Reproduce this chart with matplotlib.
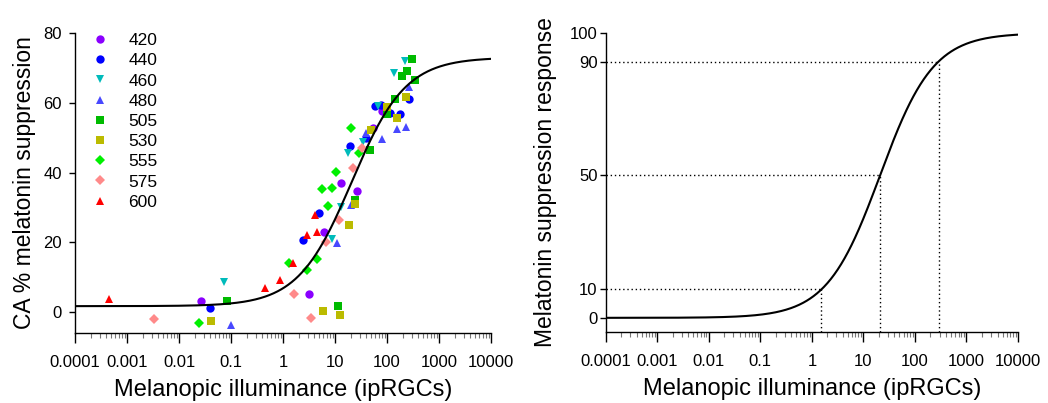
import matplotlib
matplotlib.use("Agg")
import matplotlib.pyplot as plt
import numpy as np
from matplotlib.ticker import LogLocator, NullFormatter

plt.rcParams['font.family'] = ['Liberation Sans', 'DejaVu Sans']

# melanopic illuminance (x) and CA % melatonin suppression (y), by wavelength
x420 = [0.0265, 3.2, 6.2, 13.0, 26.5, 53, 79]
y420 = [3.2, 5.3, 23.0, 37.0, 34.8, 52.9, 57.7]
x440 = [0.0394, 2.39, 4.85, 19.1, 38.9, 58, 76.7, 114, 178, 265]
y440 = [1.15, 20.8, 28.5, 47.6, 50.0, 59.1, 59.3, 57.0, 56.8, 61.0]
x460 = [0.0723, 8.63, 13.0, 17.8, 34, 67, 134, 225]
y460 = [8.6, 20.9, 30.2, 45.7, 48.9, 59.1, 68.5, 72.1]
x480 = [0.0986, 11.1, 20, 39.5, 81, 156, 232, 269, 345]
y480 = [-3.8, 19.9, 30.8, 51.2, 49.5, 52.4, 53.0, 64.5, 66.4]
x505 = [0.0837, 11.2, 24.3, 46.4, 100, 145, 197, 243, 298, 345]
y505 = [3.1, 1.6, 32.1, 46.6, 56.8, 61.0, 67.7, 69.1, 72.5, 66.6]
x530 = [0.0419, 5.97, 12.5, 18.6, 24.6, 49.2, 101, 153, 232]
y530 = [-2.6, 0.4, -0.7, 24.9, 31.1, 52.2, 58.9, 55.6, 61.8]
x555 = [0.0239, 1.32, 2.9, 4.44, 5.7, 7.45, 8.75, 10.3, 20, 28.5]
y555 = [-3.2, 14.1, 12.2, 15.2, 35.4, 30.4, 35.6, 40.1, 52.9, 45.5]
x575 = [0.00326, 1.65, 3.4, 6.7, 11.9, 22.5, 32.6]
y575 = [-1.9, 5.3, -1.7, 20.1, 26.5, 41.2, 47.1]
x600 = [0.000443, 0.451, 0.875, 1.53, 2.9, 4.5, 4.19]
y600 = [3.8, 7.0, 9.3, 14.1, 22.2, 23.0, 27.8]

# fitted four-parameter logistic (Hill) curve
fit_bottom = 1.7
fit_top = 73.0
ec50 = 21.0
hill = 0.84
levels = [10, 50, 90]


def hill_curve(x, bottom, top):
    return bottom + (top - bottom) / (1 + (ec50 / x) ** hill)


series = [
    ("420", x420, y420, "o", "#8a00ff", 6.0),
    ("440", x440, y440, "o", "#0000ff", 6.0),
    ("460", x460, y460, "v", "#00bbbb", 6.2),
    ("480", x480, y480, "^", "#4848ff", 6.2),
    ("505", x505, y505, "s", "#00bb00", 5.3),
    ("530", x530, y530, "s", "#bbbb00", 5.3),
    ("555", x555, y555, "D", "#00f000", 4.7),
    ("575", x575, y575, "D", "#ff8a8a", 4.7),
    ("600", x600, y600, "^", "#ff0000", 6.2),
]


def style_axes(ax, ypad):
    ax.set_xscale("log")
    ax.set_xlim(1e-4, 1e4)
    ax.spines["top"].set_visible(False)
    ax.spines["right"].set_visible(False)
    ax.spines["left"].set_linewidth(1.0)
    ax.spines["bottom"].set_linewidth(1.0)
    ax.xaxis.set_minor_locator(LogLocator(base=10, subs=np.arange(2, 10), numticks=20))
    ax.xaxis.set_minor_formatter(NullFormatter())
    ax.set_xticks([1e-4, 1e-3, 1e-2, 1e-1, 1, 10, 100, 1000, 10000])
    ax.set_xticklabels(["0.0001", "0.001", "0.01", "0.1", "1", "10", "100", "1000", "10000"])
    ax.tick_params(axis="x", which="major", direction="out", length=7, width=1.0,
                   labelsize=12, pad=9)
    ax.tick_params(axis="x", which="minor", direction="out", length=3.5, width=0.8,
                   color="#777777")
    ax.tick_params(axis="y", which="major", direction="out", length=4.5, width=1.0,
                   labelsize=12, pad=ypad)
    ax.set_xlabel("Melanopic illuminance (ipRGCs)", fontsize=17, labelpad=6.5)


fig = plt.figure(figsize=(10.48, 4.03), dpi=100)
ax1 = fig.add_axes([0.0716, 0.1737, 0.3969, 0.7443])
ax2 = fig.add_axes([0.578, 0.176, 0.3934, 0.742])

# left panel: data and fit
for lab, xs, ys, mk, col, ms in series:
    ax1.plot(xs, ys, linestyle="none", marker=mk, color=col, markersize=ms,
             markeredgewidth=0, label=lab, zorder=3)
xx = np.logspace(-4, 4, 600)
ax1.plot(xx, hill_curve(xx, fit_bottom, fit_top), color="black", lw=1.5, zorder=4)
style_axes(ax1, 5)
ax1.set_ylim(-6, 80)
ax1.set_yticks([0, 20, 40, 60, 80])
ax1.set_ylabel("CA % melatonin suppression", fontsize=16.5, labelpad=5)
ax1.legend(loc="upper left", bbox_to_anchor=(0.04, 1.0), frameon=False,
           fontsize=12.5, handlelength=1.0, handletextpad=1.1, labelspacing=0.29,
           borderpad=0, borderaxespad=0, markerscale=1.0)

# right panel: normalised response with 10/50/90 % guides
ax2.plot(xx, hill_curve(xx, 0, 100), color="black", lw=1.5, zorder=4)
for p in levels:
    xp = ec50 * (p / (100 - p)) ** (1 / hill)
    ax2.plot([1e-4, xp], [p, p], color="black", lw=1.0, linestyle=(0, (1, 2)))
    ax2.plot([xp, xp], [-5, p], color="black", lw=1.0, linestyle=(0, (1, 2)))
style_axes(ax2, 1.5)
ax2.set_ylim(-5, 100)
ax2.set_yticks([0, 10, 50, 90, 100])
ax2.set_ylabel("Melatonin suppression response", fontsize=16.5, labelpad=9)

fig.savefig("out.png", dpi=100)
